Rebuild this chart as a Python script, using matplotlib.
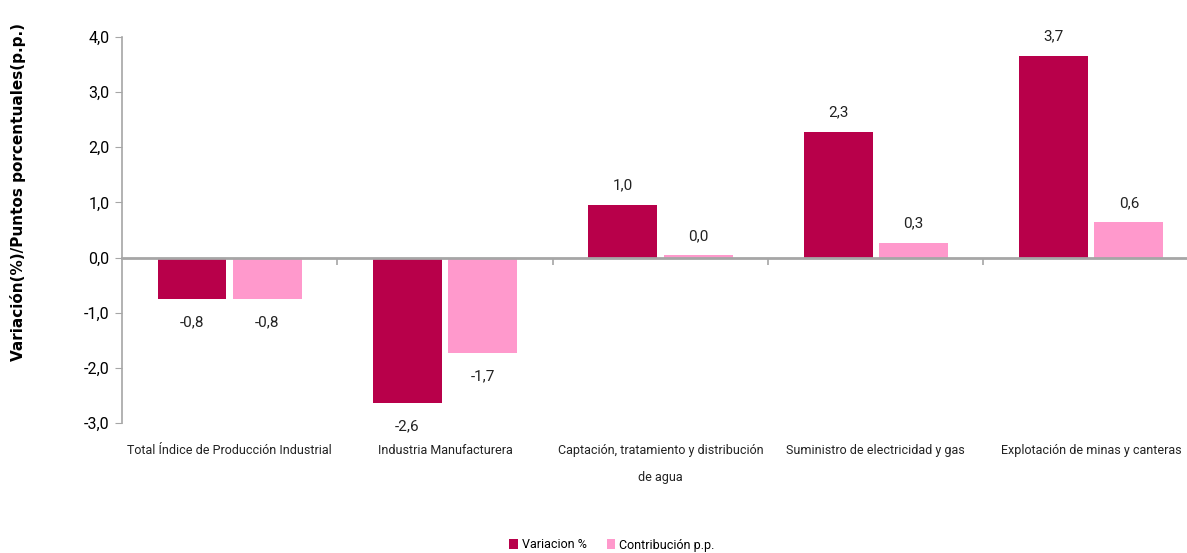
import numpy as np
import matplotlib.pyplot as plt

# data
categories = ['Total Índice de Producción Industrial', 'Industria Manufacturera',
              'Captación, tratamiento y distribución\nde agua',
              'Suministro de electricidad y gas', 'Explotación de minas y canteras']
variacion = [-0.75, -2.64, 0.96, 2.28, 3.66]
contribucion = [-0.75, -1.73, 0.04, 0.27, 0.64]
series_names = ['Variacion %', 'Contribución p.p.']

dark = '#B8004A'
pink = '#FF99CC'
grey = '#A6A6A6'

plt.rcParams['font.family'] = ['Roboto', 'DejaVu Sans']

fig = plt.figure(figsize=(11.87, 5.53), dpi=100)
ax = fig.add_axes([122/1187, 130/553, 1 - 122/1187, 386/553])

x = np.arange(len(categories))
w = 0.32
off = 0.175
b1 = ax.bar(x - off, variacion, w, color=dark, label=series_names[0], zorder=2)
b2 = ax.bar(x + off, contribucion, w, color=pink, label=series_names[1], zorder=2)

def fmt(v):
    s = '%.1f' % v
    if s == '-0.0':
        s = '0.0'
    return s.replace('.', ',')

for bars, vals in ((b1, variacion), (b2, contribucion)):
    for r, v in zip(bars, vals):
        ax.annotate(fmt(v), (r.get_x() + r.get_width()/2, v),
                    xytext=(0, 14 if v >= 0 else -17), textcoords='offset points',
                    ha='center', va='center', fontsize=11, color='#222222')

ax.set_ylim(-3, 4)
ax.set_xlim(-0.5, 4.445)
ax.set_yticks(np.arange(-3, 5, 1))
ax.set_yticklabels([('%.1f' % t).replace('.', ',') for t in np.arange(-3, 5, 1)])
ax.tick_params(axis='y', length=5, color=grey, labelsize=11.5, pad=4)

for s in ['top', 'right']:
    ax.spines[s].set_visible(False)
ax.spines['left'].set_color(grey)
ax.spines['left'].set_linewidth(1.2)
ax.spines['bottom'].set_position(('data', 0))
ax.spines['bottom'].set_color(grey)
ax.spines['bottom'].set_linewidth(2)
ax.spines['bottom'].set_zorder(3)
ax.set_xticks(np.arange(0.5, 4.5, 1))
ax.tick_params(axis='x', length=5, color=grey, width=1.2, labelbottom=False)

sec = ax.secondary_xaxis('bottom')
sec.set_xticks(x)
sec.set_xticklabels(categories, fontsize=9, color='#222222', linespacing=2.4)
sec.tick_params(length=0, pad=15)
sec.spines['bottom'].set_visible(False)

fig.text(18/1187, 1 - 192/553, 'Variación(%)/Puntos porcentuales(p.p.)',
         rotation=90, ha='center', va='center', fontsize=11, fontweight='bold',
         family='DejaVu Sans')

fig.legend(handles=[b1, b2], loc='center', bbox_to_anchor=(612/1187, 1 - 545/553),
           ncol=2, frameon=False, fontsize=9, handlelength=0.7, handleheight=0.9,
           handletextpad=0.3, columnspacing=1.6)

fig.savefig('out.png', dpi=100)
